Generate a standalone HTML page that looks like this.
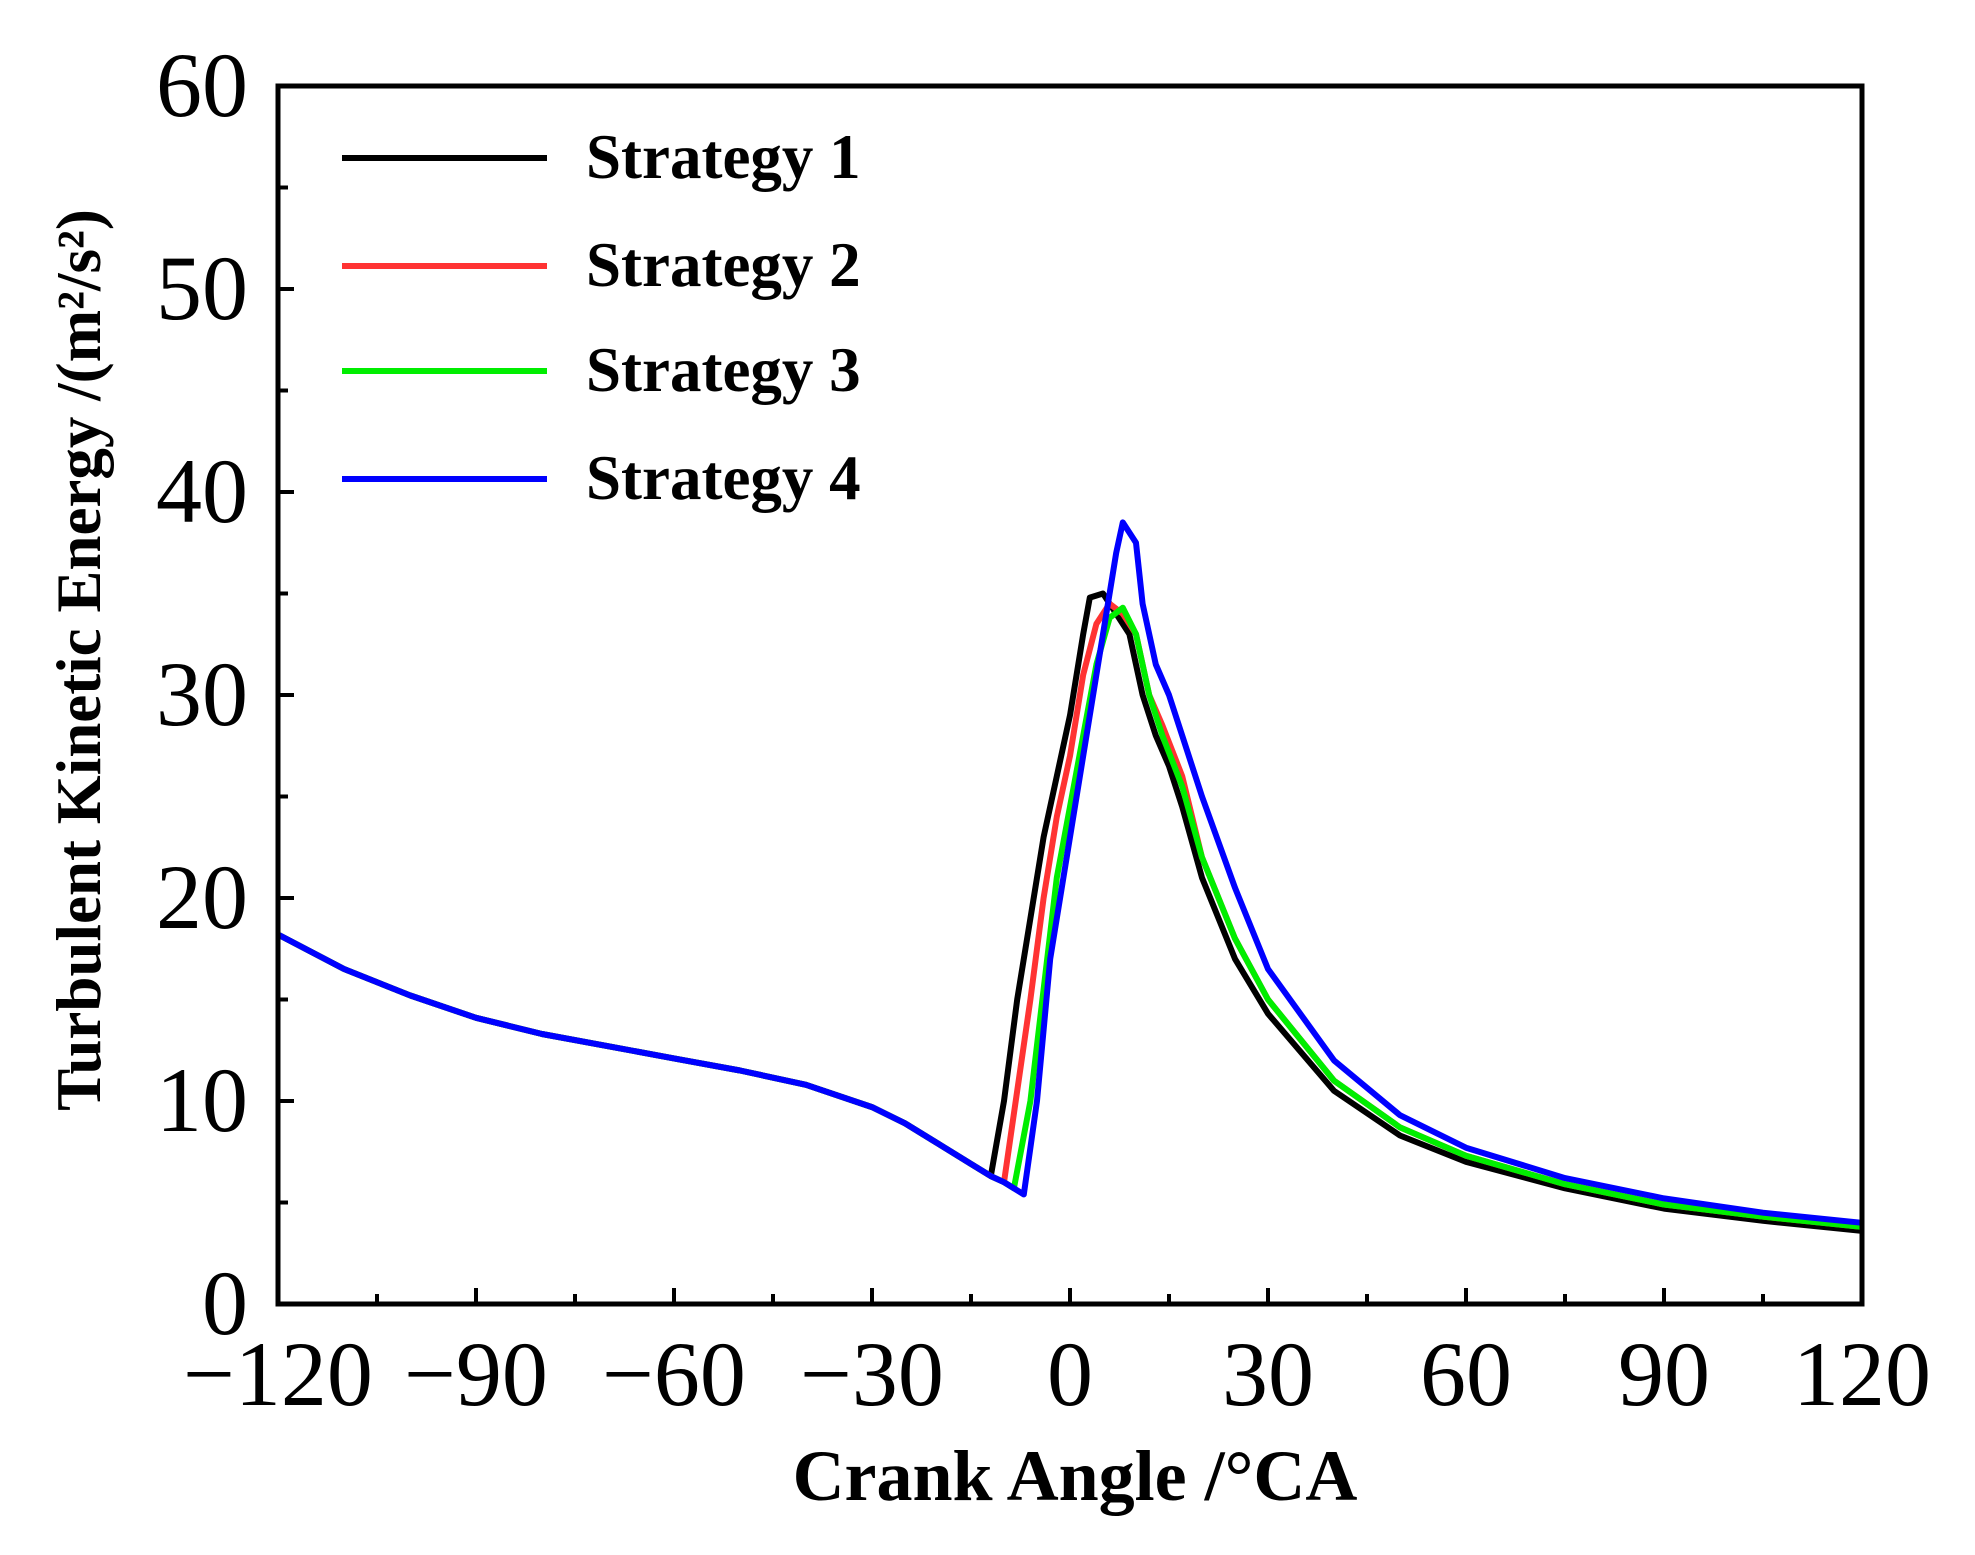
<!DOCTYPE html>
<html><head><meta charset="utf-8"><style>
body{margin:0;background:#fff;}
svg{display:block;}
</style></head><body>
<svg id="chart" width="1975" height="1555" viewBox="0 0 1975 1555" xmlns="http://www.w3.org/2000/svg">
<g id="ticks"></g>
<g id="series"></g>
<rect x="278" y="86" width="1584" height="1218" fill="none" stroke="#000" stroke-width="5"/>
<g id="labels" font-family="'Liberation Serif', serif" font-size="92"></g>
<text x="1075" y="1500" text-anchor="middle" font-family="'Liberation Serif', serif" font-weight="bold" font-size="72">Crank Angle /°CA</text>
<text transform="translate(100,660) rotate(-90)" text-anchor="middle" font-family="'Liberation Serif', serif" font-weight="bold" font-size="63">Turbulent Kinetic Energy /(m²/s²)</text>
<g id="legend" font-family="'Liberation Serif', serif" font-weight="bold" font-size="63"></g>
</svg>
<script>
const xTicks=[-120,-90,-60,-30,0,30,60,90,120];
const yTicks=[0,10,20,30,40,50,60];
const seriesNames=["Strategy 1","Strategy 2","Strategy 3","Strategy 4"];
const seriesColors=["#000000","#ff3333","#00ee00","#0000ff"];
const commonX=[-120,-110,-100,-90,-80,-70,-60,-50,-40,-30,-25,-20,-15];
const commonY=[18.2,16.5,15.2,14.1,13.3,12.7,12.1,11.5,10.8,9.7,8.9,7.9,6.9];
const s1X=[-12,-10,-8,-6,-4,-2,0,2,3,5,7,9,11,13,15,17,20,25,30,40,50,60,75,90,105,120];
const s1Y=[6.3,10,15,19,23,26,29,33,34.8,35,34,33,30,28,26.5,24.5,21,17,14.3,10.5,8.3,7,5.7,4.7,4.1,3.6];
const s2X=[-12,-10,-8,-6,-4,-2,0,2,4,6,8,10,12,14,17,20,25,30,40,50,60,75,90,105,120];
const s2Y=[6.3,6.0,10.5,15,20,24,27,31,33.5,34.5,34,33,30,28.5,26,22,18,15,11,8.7,7.3,5.9,4.9,4.3,3.8];
const s3X=[-12,-10,-8.5,-6,-4,-2,0,2,4,6,8,10,12,14,17,20,25,30,40,50,60,75,90,105,120];
const s3Y=[6.3,6.0,5.7,10,15.5,21,24.5,28,31.5,33.8,34.3,33,30,28,25.5,22,18,15,11,8.7,7.3,5.9,4.9,4.3,3.8];
const s4X=[-12,-10,-7,-5,-3,-1,1,3,5,7,8,10,11,13,15,17,20,25,30,40,50,60,75,90,105,120];
const s4Y=[6.3,6.0,5.4,10,17,21,25,29,33,37,38.5,37.5,34.5,31.5,30,28,25,20.5,16.5,12,9.3,7.7,6.2,5.2,4.5,4.0];
const seriesX=[s1X,s2X,s3X,s4X];
const seriesY=[s1Y,s2Y,s3Y,s4Y];

const L=278,R=1862,T=86,B=1304;
function sx(v){return L+(v+120)/240*(R-L);}
function sy(v){return B-v/60*(B-T);}
const NS="http://www.w3.org/2000/svg";
function mk(tag,attrs,parent){const e=document.createElementNS(NS,tag);for(const k in attrs)e.setAttribute(k,attrs[k]);parent.appendChild(e);return e;}
const tg=document.getElementById('ticks'),lg=document.getElementById('labels');
for(let v=-120;v<=120;v+=15){
  const len=(v%30===0)?16:10;
  const t=mk('line',{x1:sx(v),x2:sx(v),y1:B,y2:B-len,stroke:'#000','stroke-width':4},tg);
  
  
}
for(let v=0;v<=60;v+=5){
  const len=(v%10===0)?16:10;
  const t=mk('line',{x1:L,x2:L+len,y1:sy(v),y2:sy(v),stroke:'#000','stroke-width':4},tg);
  
  
}
xTicks.forEach(v=>{
  const t=mk('text',{x:sx(v),y:1405,'text-anchor':'middle'},lg);
  t.textContent=(v<0?'\u2212':'')+Math.abs(v);
  
  
});
yTicks.forEach(v=>{
  const t=mk('text',{x:248,y:sy(v)+30,'text-anchor':'end'},lg);
  t.textContent=v;
  
  
});
const sg=document.getElementById('series');
const leg=document.getElementById('legend');
const legY=[158,266,371,479];
seriesNames.forEach((n,i)=>{
  const xs=commonX.concat(seriesX[i]),ys=commonY.concat(seriesY[i]);
  const d=xs.map((x,j)=>(j?'L':'M')+sx(x).toFixed(1)+','+sy(ys[j]).toFixed(1)).join(' ');
  const p=mk('path',{d:d,fill:'none',stroke:seriesColors[i],'stroke-width':6,'stroke-linejoin':'round'},sg);
  
  
  const l=mk('line',{x1:342,x2:547,y1:legY[i],y2:legY[i],stroke:seriesColors[i],'stroke-width':6},leg);
  
  
  const t=mk('text',{x:586,y:legY[i]+20},leg);
  t.textContent=n;
  
  
});
</script>
</body></html>
